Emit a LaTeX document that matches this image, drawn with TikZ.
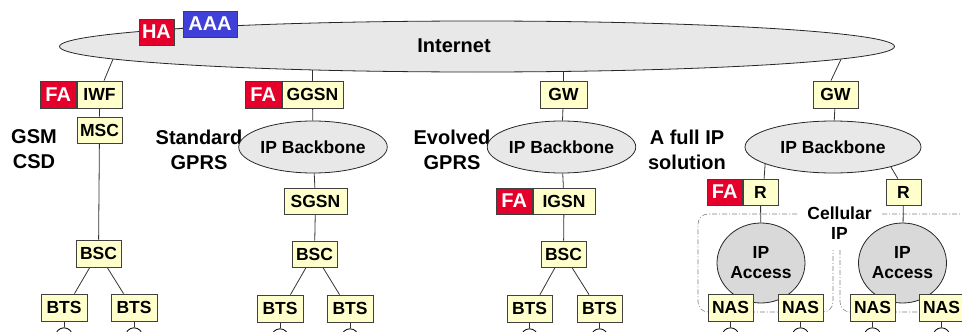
\documentclass[tikz,border=0pt]{standalone}
\usepackage{fontspec}
\setmainfont{Liberation Sans}
\usetikzlibrary{positioning,shapes.geometric,backgrounds}

\definecolor{nodeyellow}{RGB}{255,255,204}
\definecolor{agentred}{RGB}{228,0,43}
\definecolor{aaablue}{RGB}{64,64,216}
\definecolor{netgrey}{RGB}{232,232,232}
\definecolor{accessgrey}{RGB}{217,217,217}

\newcommand{\boxfont}{\fontsize{17.5}{20}\selectfont\bfseries}
\newcommand{\tagfont}{\fontsize{20}{25}\selectfont\bfseries}

\tikzset{
  elem/.style={draw=black!75, fill=nodeyellow, font=\boxfont, line width=0.8pt, minimum height=27pt, inner sep=0pt},
  agent/.style={elem, fill=agentred, text=white, font=\tagfont},
  cloudy/.style={ellipse, draw=black!85, fill=netgrey, font=\boxfont, line width=0.8pt, inner sep=0pt},
  tech/.style={font=\tagfont, align=center},
  link/.style={draw=black!80, line width=0.8pt},
  mobile/.style={circle, draw=black, fill=white, line width=0.8pt, minimum size=17pt, inner sep=0pt},
  cellular/.style={draw=black!50, line width=0.6pt, dash pattern=on 5pt off 2pt on 1pt off 2pt, rounded corners=10pt}
}

\begin{document}
\begin{tikzpicture}[x=1pt, y=-1pt]
\useasboundingbox (0,0) rectangle (962,332);

% the Internet with home agent and AAA
\node[cloudy, minimum width=835pt, minimum height=51pt] (net) at (477,46.5) {};
\node[font=\tagfont] (nettxt) at (454,46) {Internet};
\node[agent, minimum width=35pt, minimum height=26pt] (ha) at (156.5,32) {HA};
\node[agent, fill=aaablue, minimum width=54pt, minimum height=26pt] (aaa) at (210,24) {AAA};

% GSM CSD
\node[tech] (gsm) at (34,149.5) {GSM\\CSD};
\node[elem, minimum width=45pt] (iwf) at (99.5,94.5) {IWF};
\node[agent, minimum width=36pt, left=0pt of iwf] (fa1) {FA};
\node[elem, minimum width=45pt, minimum height=26pt] (msc) at (99.5,130) {MSC};
\node[elem, minimum width=45pt] (bsc1) at (98.5,253.5) {BSC};
\node[elem, minimum width=46pt] (bts1a) at (64,307.5) {BTS};
\node[elem, minimum width=46pt] (bts1b) at (134,307.5) {BTS};

% standard GPRS
\node[tech] (gprs) at (199,149.5) {Standard\\GPRS};
\node[elem, minimum width=61pt] (ggsn) at (312.5,94.5) {GGSN};
\node[agent, minimum width=36pt, left=0pt of ggsn] (fa2) {FA};
\node[cloudy, minimum width=124pt, minimum height=52pt] (bb2) at (313,147) {IP Backbone};
\node[elem, minimum width=63pt, minimum height=26pt] (sgsn) at (315.5,201) {SGSN};
\node[elem, minimum width=45pt, minimum height=26pt] (bsc2) at (314.5,254) {BSC};
\node[elem, minimum width=46pt] (bts2a) at (280,308.5) {BTS};
\node[elem, minimum width=46pt] (bts2b) at (350,308.5) {BTS};

% evolved GPRS
\node[tech] (egprs) at (452,149.5) {Evolved\\GPRS};
\node[elem, minimum width=47pt] (gw3) at (563.5,94.5) {GW};
\node[cloudy, minimum width=123pt, minimum height=52pt] (bb3) at (561.5,147) {IP Backbone};
\node[elem, minimum width=62pt, minimum height=26pt] (igsn) at (564,201) {IGSN};
\node[agent, minimum width=36pt, minimum height=26pt, left=0pt of igsn] (fa3) {FA};
\node[elem, minimum width=45pt, minimum height=26pt] (bsc3) at (563.5,254) {BSC};
\node[elem, minimum width=45pt] (bts3a) at (529.5,308.5) {BTS};
\node[elem, minimum width=45pt] (bts3b) at (599.5,308.5) {BTS};

% full IP, cellular IP access
\node[tech] (fullip) at (687,149.5) {A full IP\\solution};
\node[elem, minimum width=45pt] (gw4) at (835.5,94.5) {GW};
\node[cloudy, minimum width=176pt, minimum height=52pt] (bb4) at (833,147) {IP Backbone};
\node[elem, minimum width=35pt, minimum height=26pt] (r1) at (760.5,192) {R};
\node[agent, minimum width=35pt, minimum height=26pt, left=0pt of r1] (fa4) {FA};
\node[elem, minimum width=35pt, minimum height=26pt] (r2) at (903.5,192) {R};
\node[cloudy, fill=accessgrey, minimum width=88pt, minimum height=80pt, align=center] (acc1) at (761,263) {IP\\Access};
\node[cloudy, fill=accessgrey, minimum width=88pt, minimum height=80pt, align=center] (acc2) at (902.5,263) {IP\\Access};
\node[elem, minimum width=45pt] (nas1) at (730.5,307.5) {NAS};
\node[elem, minimum width=45pt] (nas2) at (800.5,307.5) {NAS};
\node[elem, minimum width=45pt] (nas3) at (872.5,307.5) {NAS};
\node[elem, minimum width=45pt] (nas4) at (941.5,307.5) {NAS};
\node[font=\boxfont, align=center] (cip) at (839.5,223) {Cellular\\IP};

% mobiles under each radio node
\foreach \t in {bts1a,bts1b,bts2a,bts2b,bts3a,bts3b,nas1,nas2,nas3,nas4}
  \node[mobile, below=6pt of \t] (\t-ms) {};

\begin{scope}[on background layer]
  \draw[cellular] (797,214) -- (698,214) -- (698,312) -- (833,312) -- (833,250);
  \draw[cellular] (882,214) -- (980,214) -- (980,312) -- (840,312) -- (840,250);

  \draw[link] (ha) -- (aaa);
  \draw[link] (net.182.2) -- (iwf.72);
  \draw[link] (iwf) -- (msc) (msc) -- (bsc1);
  \draw[link] (ggsn.north) -- (ggsn.north |- net.center);
  \draw[link] (ggsn) -- (bb2) (bb2) -- (sgsn) (sgsn) -- (bsc2);
  \draw[link] (gw3.north) -- (gw3.north |- net.center);
  \draw[link] (gw3) -- (bb3) (bb3) -- (igsn) (igsn) -- (bsc3);
  \draw[link] (net.-2.65) -- (gw4.108);
  \draw[link] (gw4) -- (bb4);
  \draw[link] (bb4.194.7) -- (r1.75) (bb4.341) -- (r2.113);
  \draw[link] (r1) -- (acc1) (r2) -- (acc2);
  \foreach \c/\a/\b in {bsc1/bts1a/bts1b, bsc2/bts2a/bts2b, bsc3/bts3a/bts3b}
    \draw[link] (\c.238) -- (\a.53) (\c.302) -- (\b.127);
  \foreach \t in {bts1a,bts1b,bts2a,bts2b,bts3a,bts3b,nas1,nas2,nas3,nas4}
    \draw[link] (\t) -- (\t-ms);
\end{scope}
\end{tikzpicture}
\end{document}
